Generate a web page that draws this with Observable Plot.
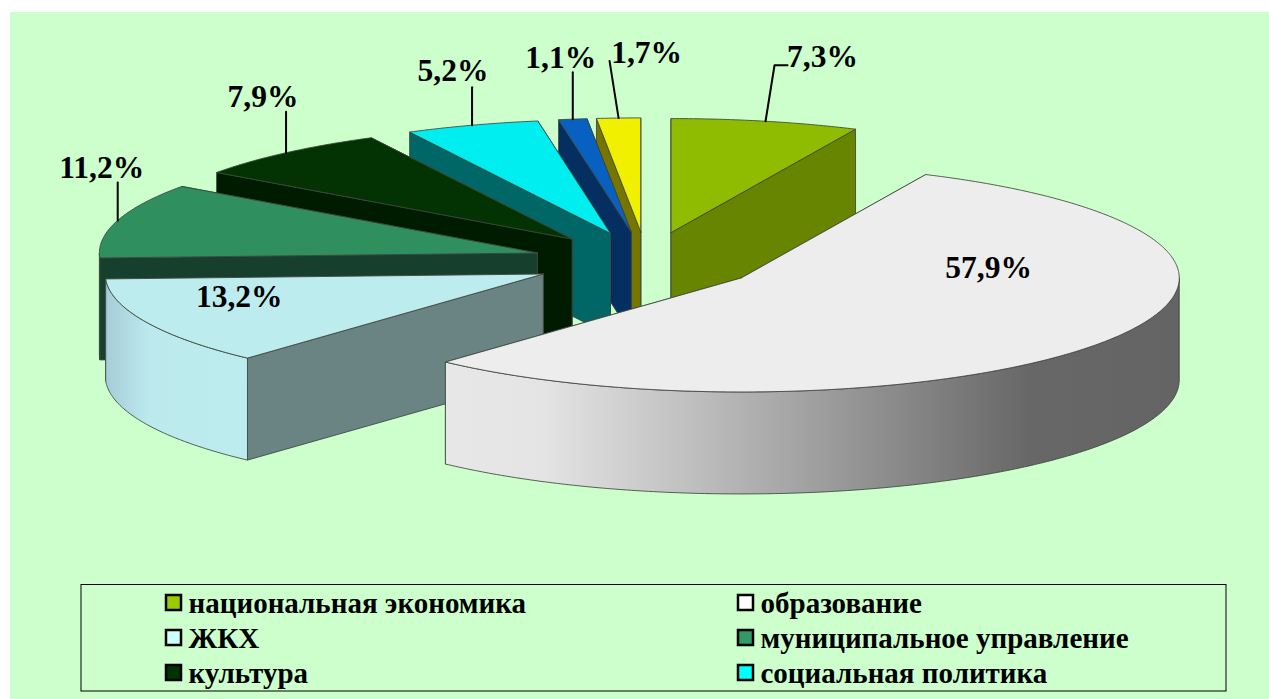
<!DOCTYPE html>
<html><head><meta charset="utf-8">
<style>html,body{margin:0;padding:0;background:#fff}svg{display:block}</style>
<script src="https://cdn.jsdelivr.net/npm/d3@7"></script>
<script src="https://cdn.jsdelivr.net/npm/@observablehq/plot@0.6"></script>
</head><body><div id="chart"></div>
<script>
// Data
const categories = ["национальная экономика","образование","ЖКХ","муниципальное управление","культура","социальная политика","прочие 1","прочие 2"];
const values = [7.3,57.9,13.2,11.2,7.9,5.2,1.1,1.7];
const valueLabels = ["7,3%","57,9%","13,2%","11,2%","7,9%","5,2%","1,1%","1,7%"];
// Styles
const topColors  = ["#8fbc00","#ededed","#bdecee","#2f8f5f","#033303","#00eef0","#0861c0","#f0f000"];
const sideColors = ["#688500","#e6e6e6","#6a8484","#173f2d","#001c00","#006666","#042f60","#757500"];
const rimColors  = ["#688500","url(#eduRim)","url(#zhkRim)","#173f2d","#001c00","#006666","#042f60","#757500"];
const legendColors = ["#99cc00","#ffffff","#ccffff","#339966","#003300","#00ffff"];
const drawOrder = [0,7,6,5,4,3,2,1];
// Layout
const W = 1269, H = 699;
const cx = 646, cy = 261, rx = 438, ry = 114, depth = 102, explode = 0.26;
const labelDx = [57,-117,93,-16,-23,-19,-12,28];
const labelDy = [-64,-73,-25,-52,-56,-54,-61,-65];
const leaderTipDx = [9,null,null,0,0,0,0,-9];
const leaderTipDy = [-56,null,null,-38,-41,-38,-47,-57];

const arcs = d3.pie().sort(null).value(d => d)(values);
const slices = arcs.map((a,i) => {
  const mid = (a.startAngle + a.endAngle)/2;
  const ax = cx + explode*rx*Math.sin(mid), ay = cy - explode*ry*Math.cos(mid);
  const rim = t => ({x: ax + rx*Math.sin(t), y: ay - ry*Math.cos(t)});
  return {i, a0:a.startAngle, a1:a.endAngle, mid, ax, ay, rim};
});
const arcPts = (s,t0,t1) => {
  const n = Math.max(2, Math.ceil((t1-t0)/0.01));
  return d3.range(n+1).map(k => s.rim(t0+(t1-t0)*k/n));
};
const down = pts => pts.map(p => ({x:p.x, y:p.y+depth}));
const strokeCol = "#3c463c";
const poly = (pts, fill, sw=1) => Plot.line([...pts, pts[0]], {x:"x", y:"y", fill, stroke:strokeCol, strokeWidth:sw, strokeOpacity:.85, curve:"linear"});

const marks = [];
// gradient defs
marks.push(() => {
  const ns = "http://www.w3.org/2000/svg";
  const g = document.createElementNS(ns,"defs");
  g.innerHTML = `
  <linearGradient id="eduRim" gradientUnits="userSpaceOnUse" x1="440" x2="1177" y1="0" y2="0">
    <stop offset="0" stop-color="#e8e8e8"/><stop offset=".14" stop-color="#e4e4e4"/><stop offset=".42" stop-color="#b0b0b0"/><stop offset=".8" stop-color="#676767"/><stop offset="1" stop-color="#646464"/>
  </linearGradient>
  <linearGradient id="zhkRim" gradientUnits="userSpaceOnUse" x1="105" x2="248" y1="0" y2="0">
    <stop offset="0" stop-color="#a6ccd8"/><stop offset=".3" stop-color="#bbe9ec"/><stop offset="1" stop-color="#bdecee"/>
  </linearGradient>`;
  return g;
});
// panel
marks.push(Plot.rect([0],{x1:()=>10,x2:()=>W,y1:()=>12,y2:()=>H,fill:"#ccffcc"}));
// pie, back to front
for (const i of drawOrder) {
  const s = slices[i];
  const apex = {x:s.ax,y:s.ay};
  // radial cut faces: the face nearer the viewer is painted last
  const faces = s.mid > Math.PI ? [s.a1, s.a0] : [s.a0, s.a1];
  for (const t of faces) {
    const p = s.rim(t);
    marks.push(poly([apex,p,{x:p.x,y:p.y+depth},{x:apex.x,y:apex.y+depth}], sideColors[i]));
  }
  // front rim
  const t0 = Math.max(s.a0, Math.PI/2), t1 = Math.min(s.a1, 3*Math.PI/2);
  if (t1 > t0) {
    const top = arcPts(s,t0,t1);
    marks.push(poly([...top, ...down(top).reverse()], rimColors[i]));
  }
  // top surface
  marks.push(poly([apex, ...arcPts(s,s.a0,s.a1)], topColors[i]));
}
// labels and leaders
const anchors = slices.map(s => s.rim(s.mid));
const leaders = slices.filter(s => leaderTipDx[s.i] !== null);
for (const s of leaders) {
  const b = anchors[s.i];
  const tip = {x:b.x+leaderTipDx[s.i], y:b.y+leaderTipDy[s.i]};
  const path = s.i === 0 ? [b, tip, {x:tip.x+13,y:tip.y}] : [b, tip];
  marks.push(Plot.line(path,{x:"x",y:"y",stroke:"#000",strokeWidth:2,curve:"linear"}));
}
marks.push(Plot.text(slices,{
  x:s=>anchors[s.i].x+labelDx[s.i], y:s=>anchors[s.i].y+labelDy[s.i],
  text:s=>valueLabels[s.i], fontFamily:"Liberation Serif", fontWeight:"bold", fontSize:31.5, fill:"#000"
}));
// legend
const legendX = [165,737], legendRows = [603,638,673];
const legendItems = legendColors.map((c,i)=>({name:categories[i],color:c,col:i%2,row:Math.floor(i/2)}));
marks.push(Plot.rect([0],{x1:()=>81,x2:()=>1226,y1:()=>584.5,y2:()=>691,fill:"none",stroke:"#000",strokeWidth:1}));
marks.push(Plot.rect(legendItems,{
  x1:d=>legendX[d.col]+1, x2:d=>legendX[d.col]+16, y1:d=>legendRows[d.row]-8, y2:d=>legendRows[d.row]+7,
  fill:d=>d.color, stroke:"#000", strokeWidth:2.5}));
marks.push(Plot.text(legendItems,{
  x:d=>legendX[d.col]+23, y:d=>legendRows[d.row], text:"name", textAnchor:"start",
  fontFamily:"Liberation Serif", fontWeight:"bold", fontSize:29, fill:"#000"
}));

const plot = Plot.plot({
  width:W, height:H, margin:0, style:{background:"#fff",overflow:"visible"},
  x:{domain:[0,W],range:[0,W],axis:null},
  y:{domain:[0,H],range:[0,H],axis:null},
  marks
});
document.getElementById("chart").appendChild(plot);
</script></body></html>
